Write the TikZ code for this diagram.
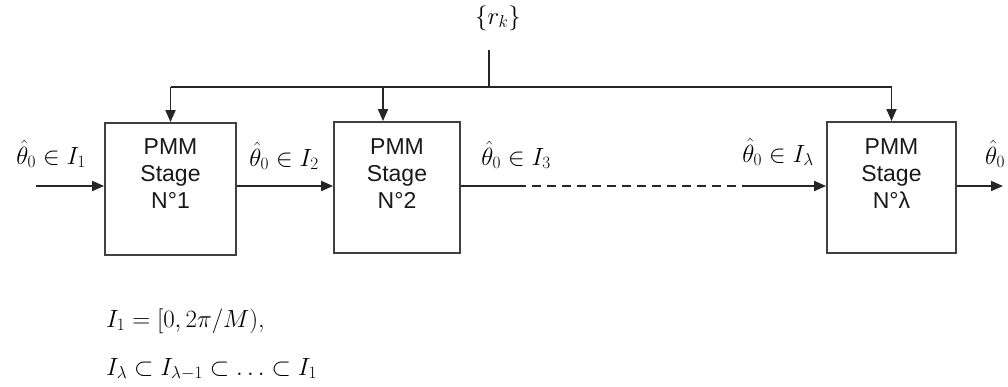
\documentclass[tikz,border=0pt]{standalone}
\usepackage{fontspec}
\setsansfont{Liberation Sans}
\usetikzlibrary{arrows.meta,calc}
\tikzset{
  stagebox/.style={draw=black!75,line width=1.8pt,fill=white,inner sep=0pt},
  stagetext/.style={font=\sffamily\fontsize{23}{27}\selectfont,align=center,inner sep=0pt,text=black!90},
  lbl/.style={font=\fontsize{25}{29}\selectfont,inner sep=0pt},
  eqn/.style={font=\fontsize{26}{30}\selectfont,inner sep=0pt,anchor=base west},
  conn/.style={draw=black!85,line width=1.8pt},
  arr/.style={conn,-{Triangle[length=12pt,width=10pt]}},
  dashline/.style={conn,dash pattern=on 9pt off 6pt}
}
\begin{document}
\begin{tikzpicture}[x=1pt,y=-1pt]
\useasboundingbox (0,0) rectangle (1008,386);
% boxes
\node[stagebox,minimum width=131pt,minimum height=132pt] (b1) at (170.5,189) {};
\node[stagebox,minimum width=126pt,minimum height=131pt] (b2) at (397,187.5) {};
\node[stagebox,minimum width=129pt,minimum height=131pt] (b3) at (891.5,187.5) {};
\node[stagetext] (t1) at (170.5,174) {PMM\\Stage\\N°1};
\node[stagetext] (t2) at (397,174) {PMM\\Stage\\N°2};
\node[stagetext] (t3) at (891.5,174) {PMM\\Stage\\N°λ};
% top feed
\node[lbl] (rk) at (498,18) {$\{r_k\}$};
\coordinate (top) at (489,50);
\coordinate (bus) at (489,87);
\coordinate (d1) at (170.5,87);
\coordinate (d2) at (383,87);
\coordinate (d3) at (891.5,87);
\draw[conn] (top) -- (bus);
\draw[conn] (d1) -- (d3);
\draw[arr] (d1) -- (b1.north);
\draw[arr] (d2) -- (d2 |- b2.north);
\draw[arr] (d3) -- (b3.north);
% main chain
\coordinate (in) at (36,186);
\coordinate (c1) at (517,186);
\coordinate (c2) at (750,186);
\coordinate (out) at (1003,186);
\draw[arr] (in) -- (in -| b1.west);
\draw[arr] (b1.east |- in) -- (b2.west |- in);
\draw[conn] (b2.east |- in) -- (c1);
\draw[dashline] (c1) -- (c2);
\draw[arr] (c2) -- (c2 -| b3.west);
\draw[arr] (b3.east |- in) -- (out);
% labels
\node[lbl,anchor=base] (l1) at (51,164) {$\hat{\theta}_0\in I_1$};
\node[lbl,anchor=base] (l2) at (284,166) {$\hat{\theta}_0\in I_2$};
\node[lbl,anchor=base] (l3) at (516,165) {$\hat{\theta}_0\in I_3$};
\node[lbl,anchor=base] (l4) at (778,162) {$\hat{\theta}_0\in I_\lambda$};
\node[lbl,anchor=base west] (l5) at (985,164) {$\hat{\theta}_0$};
% equations
\node[eqn] (e1) at (106,327) {$I_1=[0,2\pi/M)$,};
\node[eqn] (e2) at (106,375) {$I_\lambda\subset I_{\lambda-1}\subset\ldots\subset I_1$};
\end{tikzpicture}
\end{document}
